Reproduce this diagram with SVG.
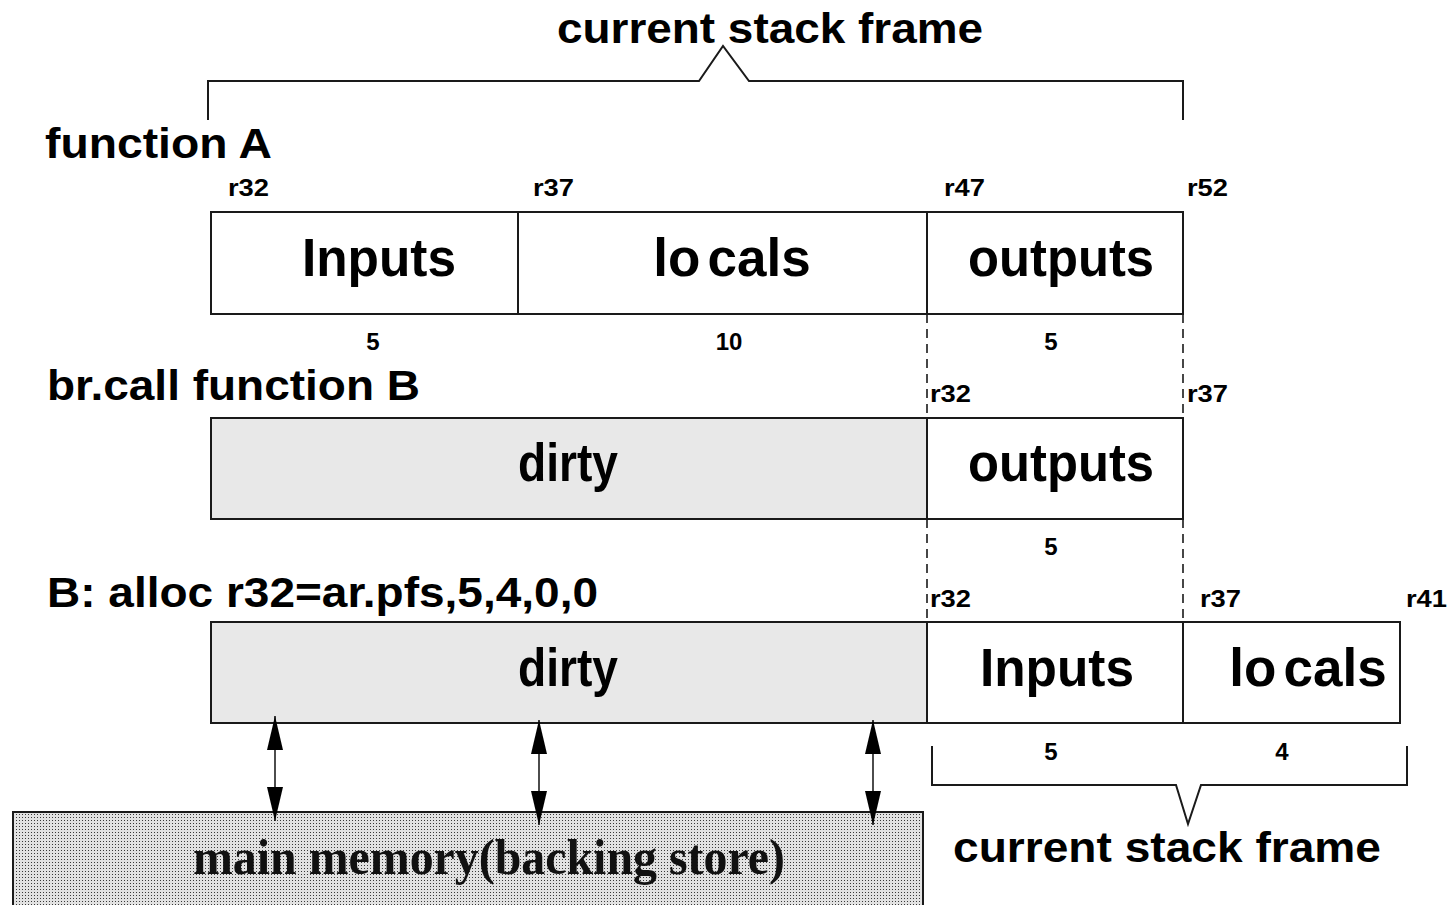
<svg xmlns="http://www.w3.org/2000/svg" width="1448" height="905" viewBox="0 0 1448 905">
<style>
.box{fill:#fff;stroke:#1a1a1a;stroke-width:2}
.dirty{fill:#e8e8e8;stroke:#1a1a1a;stroke-width:2}
.big{font-family:"Liberation Sans",Arial,sans-serif;font-weight:bold;font-size:53px;fill:#000;text-anchor:middle}
.head{font-family:"Liberation Sans",Arial,sans-serif;font-weight:bold;font-size:43px;fill:#000}
.reg{font-family:"Liberation Sans",Arial,sans-serif;font-weight:bold;font-size:24px;fill:#000}
.num{font-family:"Liberation Sans",Arial,sans-serif;font-weight:bold;font-size:24px;fill:#000;text-anchor:middle}
.brace{fill:none;stroke:#1a1a1a;stroke-width:2}
.dash{stroke:#1a1a1a;stroke-width:1.6;stroke-dasharray:9 6;fill:none}
.arr{stroke:#000;stroke-width:1.4;fill:none}
</style>
<defs>
<pattern id="stip" width="3" height="3" patternUnits="userSpaceOnUse">
<rect width="3" height="3" fill="#e2e2e2"/>
<rect x="1" y="1" width="1" height="1" fill="#3a3a3a"/>
</pattern>
<marker id="ah" viewBox="0 0 34 16" refX="34" refY="8" markerWidth="34" markerHeight="16" markerUnits="userSpaceOnUse" orient="auto-start-reverse">
<path d="M0,0 L34,8 L0,16 Z" fill="#000"/>
</marker>
</defs>

<g id="top-brace">
<text class="head" x="770" y="43" text-anchor="middle" textLength="426" lengthAdjust="spacingAndGlyphs">current stack frame</text>
<path class="brace" d="M208,120 V81 H699 L723,46 L749,81 H1183 V120"/>
</g>

<g id="functionA">
<text class="head" x="45" y="158" textLength="227" lengthAdjust="spacingAndGlyphs">function A</text>
<text class="reg" x="228" y="196" textLength="41" lengthAdjust="spacingAndGlyphs">r32</text>
<text class="reg" x="533" y="196" textLength="41" lengthAdjust="spacingAndGlyphs">r37</text>
<text class="reg" x="944" y="196" textLength="41" lengthAdjust="spacingAndGlyphs">r47</text>
<text class="reg" x="1187" y="196" textLength="41" lengthAdjust="spacingAndGlyphs">r52</text>
<rect class="box" x="211" y="212" width="307" height="102"/>
<rect class="box" x="518" y="212" width="409" height="102"/>
<rect class="box" x="927" y="212" width="256" height="102"/>
<text class="big" x="379" y="276" textLength="154" lengthAdjust="spacingAndGlyphs">Inputs</text>
<text class="big" x="732" y="276">lo<tspan dx="7">cals</tspan></text>
<text class="big" x="1061" y="276" textLength="186" lengthAdjust="spacingAndGlyphs">outputs</text>
<text class="num" x="373" y="350">5</text>
<text class="num" x="729" y="350">10</text>
<text class="num" x="1051" y="350">5</text>
</g>

<g id="functionB">
<text class="head" x="47" y="400" textLength="373" lengthAdjust="spacingAndGlyphs">br.call function B</text>
<text class="reg" x="930" y="402" textLength="41" lengthAdjust="spacingAndGlyphs">r32</text>
<text class="reg" x="1187" y="402" textLength="41" lengthAdjust="spacingAndGlyphs">r37</text>
<rect class="dirty" x="211" y="418" width="716" height="101"/>
<rect class="box" x="927" y="418" width="256" height="101"/>
<text class="big" x="568" y="481" textLength="100" lengthAdjust="spacingAndGlyphs">dirty</text>
<text class="big" x="1061" y="481" textLength="186" lengthAdjust="spacingAndGlyphs">outputs</text>
<text class="num" x="1051" y="555">5</text>
</g>

<g id="allocB">
<text class="head" x="47" y="607" textLength="551" lengthAdjust="spacingAndGlyphs">B: alloc r32=ar.pfs,5,4,0,0</text>
<text class="reg" x="930" y="607" textLength="41" lengthAdjust="spacingAndGlyphs">r32</text>
<text class="reg" x="1200" y="607" textLength="41" lengthAdjust="spacingAndGlyphs">r37</text>
<text class="reg" x="1406" y="607" textLength="41" lengthAdjust="spacingAndGlyphs">r41</text>
<rect class="dirty" x="211" y="622" width="716" height="101"/>
<rect class="box" x="927" y="622" width="256" height="101"/>
<rect class="box" x="1183" y="622" width="217" height="101"/>
<text class="big" x="568" y="686" textLength="100" lengthAdjust="spacingAndGlyphs">dirty</text>
<text class="big" x="1057" y="686" textLength="154" lengthAdjust="spacingAndGlyphs">Inputs</text>
<text class="big" x="1308" y="686">lo<tspan dx="7">cals</tspan></text>
<text class="num" x="1051" y="760">5</text>
<text class="num" x="1282" y="760">4</text>
</g>

<g id="bottom-brace">
<path class="brace" d="M932,746 V785 H1176 L1188,824 L1201,785 H1407 V746"/>
<text class="head" x="1167" y="862" text-anchor="middle" textLength="428" lengthAdjust="spacingAndGlyphs">current stack frame</text>
</g>

<g id="memory">
<rect x="13" y="812" width="910" height="100" fill="url(#stip)" stroke="#1a1a1a" stroke-width="2"/>
<text x="489" y="874" text-anchor="middle" font-family="'Liberation Serif','Times New Roman',serif" font-weight="bold" font-size="50" fill="#111" textLength="592" lengthAdjust="spacingAndGlyphs">main memory(backing store)</text>
</g>

<g id="connectors">
<line class="dash" x1="927" y1="314" x2="927" y2="418"/>
<line class="dash" x1="1183" y1="314" x2="1183" y2="418"/>
<line class="dash" x1="927" y1="519" x2="927" y2="622"/>
<line class="dash" x1="1183" y1="519" x2="1183" y2="622"/>
<line class="arr" x1="275" y1="716" x2="275" y2="821" marker-start="url(#ah)" marker-end="url(#ah)"/>
<line class="arr" x1="539" y1="720" x2="539" y2="825" marker-start="url(#ah)" marker-end="url(#ah)"/>
<line class="arr" x1="873" y1="720" x2="873" y2="825" marker-start="url(#ah)" marker-end="url(#ah)"/>
</g>
</svg>
